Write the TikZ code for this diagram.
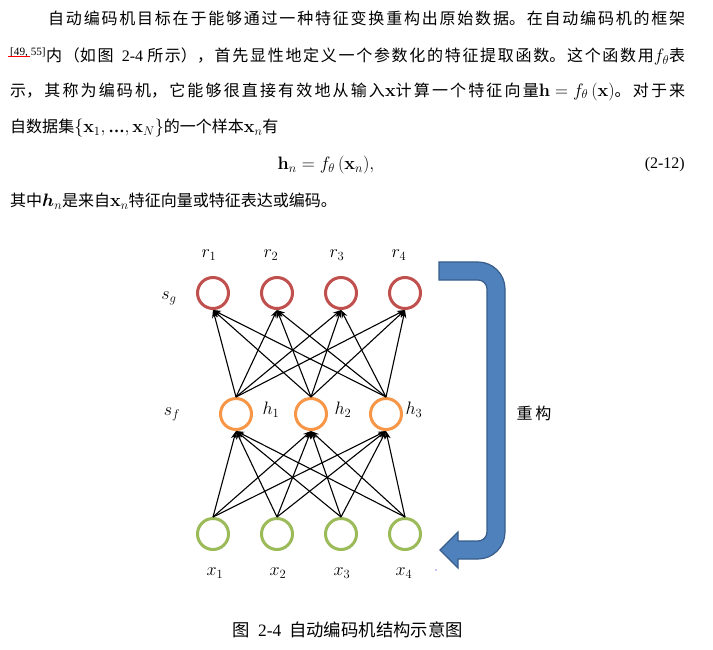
\RequirePackage{fix-cm}
\documentclass[tikz,border=0pt]{standalone}
\usepackage{amsmath}
\usepackage[no-math]{fontspec}
\setmainfont[Scale=0.89]{Noto Sans CJK SC}
\newfontfamily\lat[Scale=0.89]{Liberation Serif}
\usetikzlibrary{arrows.meta}
\XeTeXlinebreaklocale "zh"
\XeTeXlinebreakskip=0pt plus 6pt
\thickmuskip=5mu\relax
\medmuskip=4mu\relax
\definecolor{nred}{RGB}{192,80,77}
\definecolor{norange}{RGB}{247,150,70}
\definecolor{ngreen}{RGB}{155,187,89}
\definecolor{ablue}{RGB}{79,129,189}
\definecolor{aedge}{RGB}{56,93,138}
\begin{document}
\begin{tikzpicture}[x=1pt,y=1pt,
  neuron/.style={circle, minimum size=31pt, inner sep=0pt, line width=3pt},
  redn/.style={neuron, draw=nred},
  orn/.style={neuron, draw=norange},
  grn/.style={neuron, draw=ngreen},
  lbl/.style={inner sep=0pt, font=\fontsize{18}{21}\selectfont},
  conn/.style={line width=1.1pt, -{Stealth[length=8pt,width=6pt]}},
  para/.style={anchor=west, inner sep=0pt, align=justify, font=\fontsize{18}{22}\selectfont},
  plain/.style={anchor=west, inner sep=0pt, font=\fontsize{18}{22}\selectfont}]
\useasboundingbox (0,0) rectangle (713,-650);

% paragraph text
\node[para, text width=637pt] (l1) at (48,-18.5) {\parfillskip=0pt\relax 自动编码机目标在于能够通过一种特征变换重构出原始数据。在自动编码机的框架\par};
\node[para, text width=675pt] (l2) at (10,-56.5) {\parfillskip=0pt\relax \textsuperscript{\lat [49, 55]}内（如图\ \ {\lat 2-4} 所示），首先显性地定义一个参数化的特征提取函数。这个函数用$f_\theta$表\par};
\node[para, text width=675pt] (l3) at (10,-91.5) {\parfillskip=0pt\relax 示，其称为编码机，它能够很直接有效地从输入$\mathbf{x}$计算一个特征向量$\mathbf{h}=f_\theta\,(\mathbf{x})$。对于来\par};
\node[plain] (l4) at (10,-128) {自数据集$\{\mathbf{x}_1,\mbox{\lat\bfseries …},\mathbf{x}_N\}$的一个样本$\mathbf{x}_n$有};
\node[inner sep=0pt, font=\fontsize{18}{22}\selectfont] (eq) at (326,-165) {$\mathbf{h}_n = f_\theta\,(\mathbf{x}_n),$};
\node[anchor=east, inner sep=0pt, font=\fontsize{18}{22}\selectfont\lat] (eqn) at (685,-165) {(2-12)};
\node[plain] (l6) at (10,-201.5) {其中$\boldsymbol{h}_n$是来自$\mathbf{x}_n$特征向量或特征表达或编码。};
\draw[red, line width=0.8pt] (8,-56) -- (30,-56);

% neurons
\foreach \i/\x in {1/213,2/277,3/341,4/405} {
  \node[redn] (r\i) at (\x,-293) {};
  \node[grn] (x\i) at (\x,-534) {};
}
\foreach \j/\x in {1/236,2/311,3/386} {
  \node[orn] (h\j) at (\x,-414) {};
}
% connections
\foreach \i in {1,...,4} {
  \foreach \j in {1,2,3} {
    \draw[conn] (x\i.north) -- (h\j.south);
    \draw[conn] (h\j.north) -- (r\i.south);
  }
}
% labels
\node[lbl] (lr1) at (209,-255) {$r_1$};
\node[lbl] (lr2) at (271,-255) {$r_2$};
\node[lbl] (lr3) at (337,-255) {$r_3$};
\node[lbl] (lr4) at (399,-255) {$r_4$};
\node[lbl] (lsg) at (169,-298) {$s_g$};
\node[lbl] (lsf) at (172,-414) {$s_f$};
\node[lbl] (lh1) at (271,-410) {$h_1$};
\node[lbl] (lh2) at (343,-410) {$h_2$};
\node[lbl] (lh3) at (414,-410) {$h_3$};
\node[lbl] (lx1) at (215,-573) {$x_1$};
\node[lbl] (lx2) at (278,-573) {$x_2$};
\node[lbl] (lx3) at (342,-573) {$x_3$};
\node[lbl] (lx4) at (404,-573) {$x_4$};

% reconstruction arrow
\filldraw[fill=ablue, draw=aedge, line width=1.2pt]
  (439,-262) -- (478,-262) arc[start angle=90,end angle=0,radius=27pt] -- (505,-532)
  arc[start angle=0,end angle=-90,radius=27pt] -- (458,-559) -- (458,-568) -- (440,-550)
  -- (458,-532) -- (458,-541) -- (478,-541)
  arc[start angle=-90,end angle=0,radius=9pt] -- (487,-289)
  arc[start angle=0,end angle=90,radius=9pt] -- (439,-280) -- cycle;
\node[lbl] (rec) at (534,-413) {重\,构};
\fill[blue] (436,-570) circle (0.7pt);

% caption
\node[anchor=west, inner sep=0pt, font=\fontsize{19.5}{22}\selectfont] (cap) at (232,-630) {图\hspace{8.6pt}{\lat 2-4}\hspace{8pt}自动编码机结构示意图};
\end{tikzpicture}
\end{document}
